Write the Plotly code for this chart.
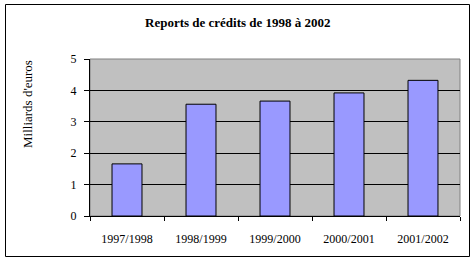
import plotly.graph_objects as go

categories = ["1997/1998", "1998/1999", "1999/2000", "2000/2001", "2001/2002"]
values = [1.66, 3.56, 3.66, 3.92, 4.32]
y_ticks = [0, 1, 2, 3, 4, 5]

FONT = "Liberation Serif, Times New Roman, serif"
W, H = 476, 263
L, R, T, B = 90, 16, 59, 47
pw, ph = W - L - R, H - T - B

def px_x(x):
    return (x - L) / pw

def px_y(y):
    return (H - B - y) / ph

fig = go.Figure()
fig.add_trace(go.Bar(
    x=categories, y=values,
    marker=dict(color="#9999FF", line=dict(color="black", width=1)),
    width=0.405,
))

fig.update_layout(
    width=W, height=H,
    margin=dict(l=L, r=R, t=T, b=B, pad=0),
    paper_bgcolor="white",
    plot_bgcolor="#C0C0C0",
    showlegend=False,
    font=dict(family=FONT, size=12, color="black"),
    xaxis=dict(
        type="category",
        tickson="boundaries",
        ticks="outside", ticklen=4, tickcolor="black", tickwidth=1,
        showgrid=False,
        showline=True, linecolor="black", linewidth=1,
        tickfont=dict(family=FONT, size=12),
        ticklabelstandoff=12,
        range=[-0.5, 4.5],
        fixedrange=True,
    ),
    yaxis=dict(
        range=[0, 5],
        tickvals=y_ticks,
        ticks="outside", ticklen=5, tickcolor="black", tickwidth=1,
        showgrid=True, gridcolor="black", gridwidth=1,
        showline=True, linecolor="black", linewidth=1,
        zeroline=False,
        tickfont=dict(family=FONT, size=12),
        ticklabelstandoff=5,
        fixedrange=True,
    ),
    shapes=[
        # plot area border (gray top/right)
        dict(type="rect", xref="paper", yref="paper", x0=0, x1=1, y0=0, y1=1,
             line=dict(color="#808080", width=1), layer="below"),
        # outer chart frame
        dict(type="rect", xref="paper", yref="paper",
             x0=px_x(5.5), x1=px_x(469.5), y0=px_y(256.5), y1=px_y(4.5),
             line=dict(color="black", width=1)),
    ],
    annotations=[
        dict(text="<b>Reports de crédits de 1998 à 2002</b>", xref="paper", yref="paper",
             x=px_x(238), y=px_y(22), showarrow=False, xanchor="center", yanchor="middle",
             font=dict(family=FONT, size=13)),
        dict(text="Milliards d'euros", xref="paper", yref="paper",
             x=px_x(27), y=px_y(104), showarrow=False, textangle=-90,
             xanchor="center", yanchor="middle",
             font=dict(family=FONT, size=13)),
    ],
)

fig.write_html("out.html")
